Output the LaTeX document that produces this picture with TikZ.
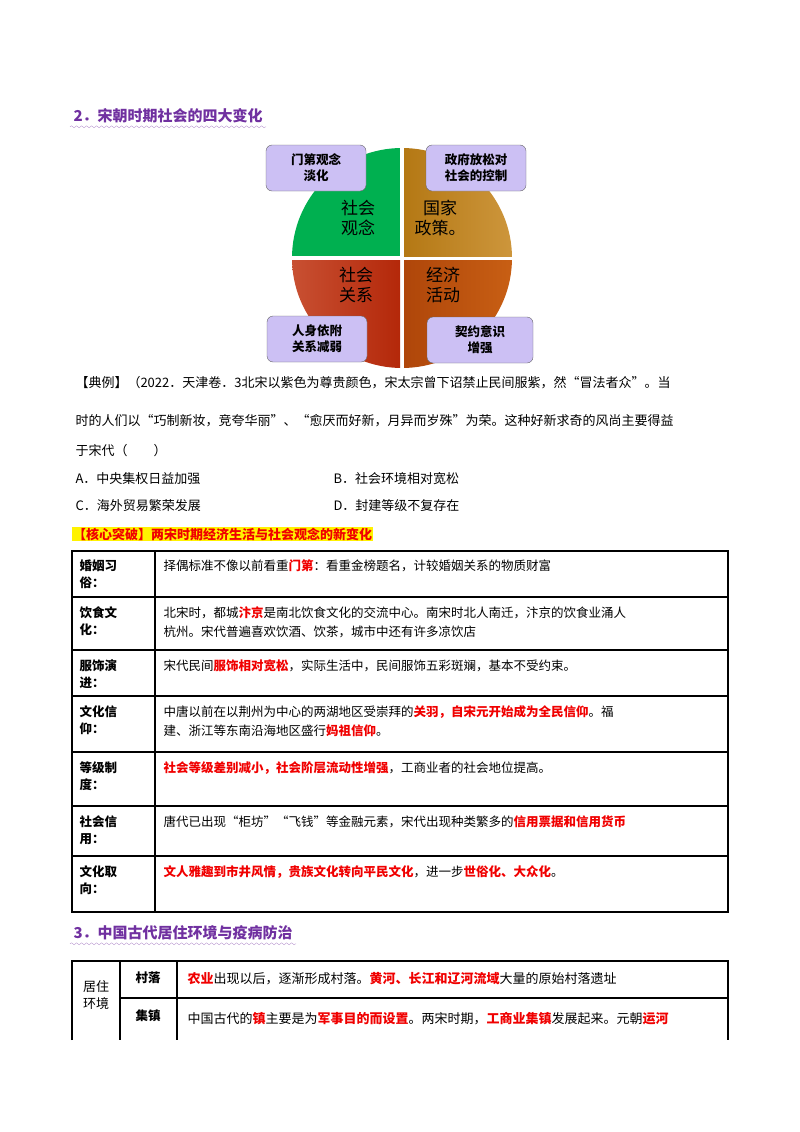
\documentclass[tikz,border=0pt]{standalone}
\usepackage{fontspec}
\setmainfont{Liberation Serif}
\newfontfamily\cjk{Noto Sans CJK SC}
\usetikzlibrary{positioning,decorations.pathmorphing}
\definecolor{headpurple}{RGB}{112,48,160}
\definecolor{boxpurple}{RGB}{204,192,244}
\definecolor{hlred}{RGB}{240,0,0}
\definecolor{qgreen}{RGB}{0,176,80}
\definecolor{qgoldA}{RGB}{180,120,20}
\definecolor{qgoldB}{RGB}{205,150,60}
\definecolor{qredA}{RGB}{200,80,50}
\definecolor{qredB}{RGB}{180,40,10}
\definecolor{qbrownA}{RGB}{175,70,10}
\definecolor{qbrownB}{RGB}{200,95,20}
\newcommand{\hl}[1]{{\color{hlred}\bfseries #1}}
\tikzset{
  heading/.style={anchor=west,text=headpurple,font=\cjk\fontsize{15}{18}\selectfont\bfseries},
  change/.style={rectangle,rounded corners=6pt,draw=black!60,fill=boxpurple,minimum width=100pt,minimum height=46pt,align=center,font=\cjk\fontsize{12.5}{16}\selectfont\bfseries},
  quad/.style={align=center,font=\cjk\fontsize{17}{20}\selectfont},
  para/.style={anchor=west,font=\cjk\fontsize{13}{15}\selectfont},
  rowlabel/.style={anchor=north west,align=left,text width=70pt,font=\cjk\fontsize{12.5}{17}\selectfont\bfseries},
  rowtext/.style={anchor=north west,align=left,text width=560pt,font=\cjk\fontsize{12.5}{19}\selectfont},
  grid/.style={line width=1.3pt}
}
\begin{document}
\begin{tikzpicture}[x=1pt,y=-1pt]
\useasboundingbox (0,0) rectangle (800,1132);
% section 2
\node[heading] (h2) at (70,116) {2．宋朝时期社会的四大变化};
\draw[headpurple!50,decorate,decoration={snake,amplitude=1pt,segment length=5pt}] (h2.south west) -- (h2.south east);
\coordinate (c) at (402,258);
\begin{scope}
  \clip (c) circle (110);
  \fill[qgreen] (292,148) rectangle (400,256);
  \shade[left color=qgoldA,right color=qgoldB] (404,148) rectangle (512,256);
  \shade[left color=qredA,right color=qredB] (292,260) rectangle (400,368);
  \shade[left color=qbrownA,right color=qbrownB] (404,260) rectangle (512,368);
\end{scope}
\node[quad] (q1) at (358,218) {社会\\观念};
\node[quad] (q2) at (440,218) {国家\\政策。};
\node[quad] (q3) at (356,285) {社会\\关系};
\node[quad] (q4) at (443,285) {经济\\活动};
\node[change] (b1) at (316,168) {门第观念\\淡化};
\node[change] (b2) at (476,168) {政府放松对\\社会的控制};
\node[change] (b3) at (317,339) {人身依附\\关系减弱};
\node[change,minimum width=106pt] (b4) at (480,340) {契约意识\\增强};
% example question
\node[para] (p1) at (72,383) {【典例】（2022．天津卷．3北宋以紫色为尊贵颜色，宋太宗曾下诏禁止民间服紫，然“冒法者众”。当};
\node[para] (p2) at (72,421) {时的人们以“巧制新妆，竞夸华丽”、“愈厌而好新，月异而岁殊”为荣。这种好新求奇的风尚主要得益};
\node[para] (p3) at (72,451) {于宋代（\quad\quad）};
\node[para] (oa) at (72,479) {A．中央集权日益加强};
\node[para] (ob) at (330,479) {B．社会环境相对宽松};
\node[para] (oc) at (72,506) {C．海外贸易繁荣发展};
\node[para] (od) at (330,506) {D．封建等级不复存在};
\node[para,fill=yellow,inner sep=1pt,text=hlred,font=\cjk\fontsize{13}{15}\selectfont\bfseries] (core) at (72,534) {【核心突破】两宋时期经济生活与社会观念的新变化};
% table 1
\draw[grid] (72,551) rectangle (728,912);
\draw[grid] (155,551) -- (155,912);
\foreach \y in {597,650,696,752,806,856} \draw[grid] (72,\y) -- (728,\y);
\node[rowlabel] (l1) at (76,556) {婚姻习\\俗：};
\node[rowtext] (t1) at (160,556) {择偶标准不像以前看重\hl{门第}：看重金榜题名，计较婚姻关系的物质财富};
\node[rowlabel] (l2) at (76,603) {饮食文\\化：};
\node[rowtext] (t2) at (160,603) {北宋时，都城\hl{汴京}是南北饮食文化的交流中心。南宋时北人南迁，汴京的饮食业涌人\\杭州。宋代普遍喜欢饮酒、饮茶，城市中还有许多凉饮店};
\node[rowlabel] (l3) at (76,656) {服饰演\\进：};
\node[rowtext] (t3) at (160,656) {宋代民间\hl{服饰相对宽松}，实际生活中，民间服饰五彩斑斓，基本不受约束。};
\node[rowlabel] (l4) at (76,702) {文化信\\仰：};
\node[rowtext] (t4) at (160,702) {中唐以前在以荆州为中心的两湖地区受崇拜的\hl{关羽，自宋元开始成为全民信仰}。福\\建、浙江等东南沿海地区盛行\hl{妈祖信仰}。};
\node[rowlabel] (l5) at (76,758) {等级制\\度：};
\node[rowtext] (t5) at (160,758) {\hl{社会等级差别减小，社会阶层流动性增强}，工商业者的社会地位提高。};
\node[rowlabel] (l6) at (76,812) {社会信\\用：};
\node[rowtext] (t6) at (160,812) {唐代已出现“柜坊”“飞钱”等金融元素，宋代出现种类繁多的\hl{信用票据和信用货币}};
\node[rowlabel] (l7) at (76,862) {文化取\\向：};
\node[rowtext] (t7) at (160,862) {\hl{文人雅趣到市井风情，贵族文化转向平民文化}，进一步\hl{世俗化、大众化}。};
% section 3
\node[heading] (h3) at (70,933) {3．中国古代居住环境与疫病防治};
\draw[headpurple!50,decorate,decoration={snake,amplitude=1pt,segment length=5pt}] (h3.south west) -- (h3.south east);
\draw[grid] (72,1040) -- (72,961) -- (728,961) -- (728,1040);
\draw[grid] (120,961) -- (120,1040);
\draw[grid] (177,961) -- (177,1040);
\draw[grid] (120,998) -- (728,998);
\node[align=center,font=\cjk\fontsize{13}{17}\selectfont] (env) at (96,995) {居住\\环境};
\node[font=\cjk\fontsize{12.5}{15}\selectfont\bfseries] (vil) at (148,978) {村落};
\node[font=\cjk\fontsize{12.5}{15}\selectfont\bfseries] (town) at (148,1016) {集镇};
\node[para] (s1) at (184,979) {\hl{农业}出现以后，逐渐形成村落。\hl{黄河、长江和辽河流域}大量的原始村落遗址};
\node[para] (s2) at (184,1019) {中国古代的\hl{镇}主要是为\hl{军事目的而设置}。两宋时期，\hl{工商业集镇}发展起来。元朝\hl{运河}};
\end{tikzpicture}
\end{document}
